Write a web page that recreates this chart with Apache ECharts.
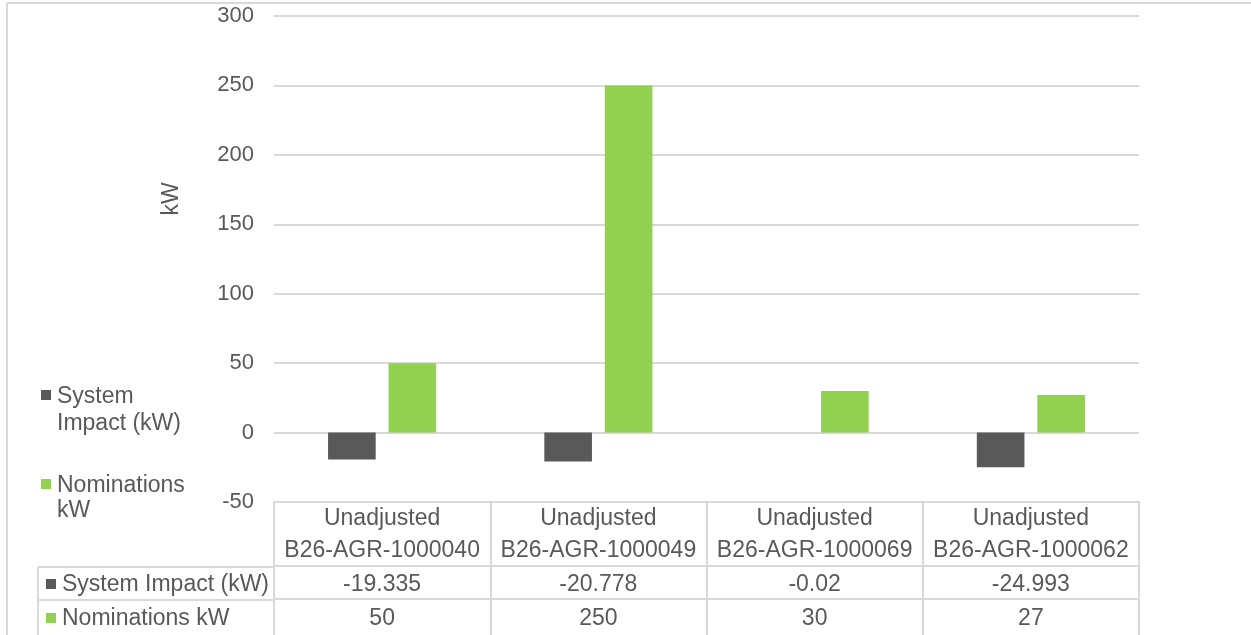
<!DOCTYPE html>
<html>
<head>
<meta charset="utf-8">
<script src="https://cdn.jsdelivr.net/npm/echarts@6/dist/echarts.min.js"></script>
<style>
  html, body { margin: 0; padding: 0; background: #ffffff; }
  #chart { width: 1251px; height: 635px; }
</style>
</head>
<body>
<div id="chart"></div>
<script>
// Meter groups shown along the category axis / data-table header
const categories = [
  'Unadjusted\nB26-AGR-1000040',
  'Unadjusted\nB26-AGR-1000049',
  'Unadjusted\nB26-AGR-1000069',
  'Unadjusted\nB26-AGR-1000062'
];
const seriesNames = ['System Impact (kW)', 'Nominations kW'];
const systemImpact = [-19.335, -20.778, -0.02, -24.993];
const nominations = [50, 250, 30, 27];
const yMin = -50;
const yMax = 300;
const yStep = 50;

const FONT = '"Liberation Sans", Arial, sans-serif';
const TEXT = '#595959';
const LINE = '#d9d9d9';
const DARK = '#595959';
const GREEN = '#92d050';
const FS = 23;      // table, legend and title text
const TICK_FS = 22; // value-axis tick labels

const chart = echarts.init(document.getElementById('chart'), null, { renderer: 'canvas' });

// One bottom axis per data-table row: header row, then one row per series
function tableAxis(data, offset, rowHeight, lineHeight, margin) {
  return {
    type: 'category',
    position: 'bottom',
    offset: offset,
    data: data,
    axisLine: { show: true, onZero: false, lineStyle: { color: LINE, width: 2 } },
    axisTick: { show: true, interval: 0, length: rowHeight, lineStyle: { color: LINE, width: 2 } },
    axisLabel: {
      interval: 0, margin: margin, color: TEXT, fontFamily: FONT, fontSize: FS,
      lineHeight: lineHeight, verticalAlign: 'top'
    },
    splitLine: { show: false }
  };
}

const option = {
  backgroundColor: '#ffffff',
  animation: false,
  textStyle: { fontFamily: FONT },
  grid: { left: 274, right: 112, top: 16, bottom: 132, containLabel: false },
  xAxis: [
    tableAxis(categories, 0, 64, 32, 1),
    tableAxis(systemImpact.map(String), 64, 33, 33, 2),
    tableAxis(nominations.map(String), 97, 40, 33, 3)
  ],
  yAxis: {
    type: 'value',
    min: yMin, max: yMax, interval: yStep,
    axisLine: { show: false },
    axisTick: { show: false },
    axisLabel: { color: TEXT, fontFamily: FONT, fontSize: TICK_FS, margin: 20 },
    splitLine: { show: true, lineStyle: { color: LINE, width: 2 } }
  },
  series: [
    {
      name: seriesNames[0], type: 'bar', xAxisIndex: 0,
      data: systemImpact,
      itemStyle: { color: DARK },
      barGap: '27%', barCategoryGap: '50%'
    },
    {
      name: seriesNames[1], type: 'bar', xAxisIndex: 0,
      data: nominations,
      itemStyle: { color: GREEN },
      barGap: '27%', barCategoryGap: '50%'
    }
  ],
  graphic: [
    // outer frame edges
    { type: 'line', shape: { x1: 7, y1: 3, x2: 1251, y2: 3 }, style: { stroke: LINE, lineWidth: 2 } },
    { type: 'line', shape: { x1: 7, y1: 3, x2: 7, y2: 635 }, style: { stroke: LINE, lineWidth: 2 } },
    // value axis title
    {
      type: 'text', x: 172, y: 199, rotation: Math.PI / 2,
      style: { text: 'kW', fill: TEXT, font: FS + 'px ' + FONT, align: 'center', verticalAlign: 'middle' }
    },
    // legend
    { type: 'rect', shape: { x: 41, y: 390, width: 10, height: 10 }, style: { fill: DARK } },
    {
      type: 'text', x: 57, y: 383,
      style: { text: 'System\nImpact (kW)', fill: TEXT, font: FS + 'px ' + FONT, lineHeight: 27, verticalAlign: 'top' }
    },
    { type: 'rect', shape: { x: 41, y: 479, width: 10, height: 10 }, style: { fill: GREEN } },
    {
      type: 'text', x: 57, y: 473,
      style: { text: 'Nominations\nkW', fill: TEXT, font: FS + 'px ' + FONT, lineHeight: 25, verticalAlign: 'top' }
    },
    // data-table row headers
    { type: 'line', shape: { x1: 38, y1: 567, x2: 274, y2: 567 }, style: { stroke: LINE, lineWidth: 2 } },
    { type: 'line', shape: { x1: 38, y1: 600, x2: 274, y2: 600 }, style: { stroke: LINE, lineWidth: 2 } },
    { type: 'line', shape: { x1: 38, y1: 567, x2: 38, y2: 640 }, style: { stroke: LINE, lineWidth: 2 } },
    { type: 'rect', shape: { x: 46, y: 579, width: 10, height: 10 }, style: { fill: DARK } },
    {
      type: 'text', x: 62, y: 585,
      style: { text: seriesNames[0], fill: TEXT, font: FS + 'px ' + FONT, verticalAlign: 'middle' }
    },
    { type: 'rect', shape: { x: 46, y: 613, width: 10, height: 10 }, style: { fill: GREEN } },
    {
      type: 'text', x: 62, y: 619,
      style: { text: seriesNames[1], fill: TEXT, font: FS + 'px ' + FONT, verticalAlign: 'middle' }
    }
  ]
};

chart.setOption(option);
</script>
</body>
</html>
